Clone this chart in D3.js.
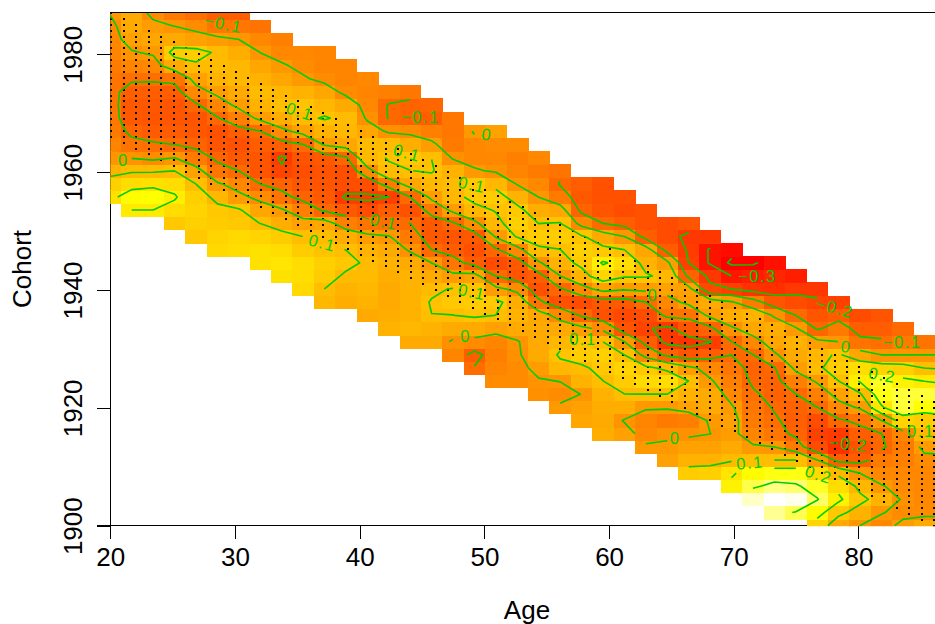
<!DOCTYPE html>
<html><head><meta charset="utf-8">
<script src="https://cdn.jsdelivr.net/npm/d3@7"></script>
<style>html,body{margin:0;background:#fff}svg{display:block}text{font-family:"Liberation Sans",Arial,sans-serif}</style>
</head><body><svg id="c" width="935" height="624"></svg>
<script>
const xTicks=[20,30,40,50,60,70,80];
const yTicks=[1900,1920,1940,1960,1980];
const levels=[-0.4,-0.3,-0.2,-0.1,0,0.1,0.2,0.3];
const columnStartRow=[25,24,24,23,22,21,21,20,19,18,17,17,16,15,14,14,13,12,11,11,10,9,8,7,7,6,5,4,4,3,2,1,1,0,0,0,0,0,0,0];
const columnValues=[
[.18,.14,.07,.0,-.04,-.06,-.07,-.075,-.08,-.075,-.06,-.04,-.03,-.02,.005,.04],
[.2,.24,.17,.09,-.005,-.08,-.115,-.14,-.14,-.125,-.09,-.04,-.005,.03,.05,.05],
[.2,.25,.18,.09,-.02,-.09,-.135,-.15,-.145,-.13,-.09,-.03,.01,.04,.02,-.02],
[.12,.17,.21,.17,.1,.0,-.1,-.135,-.15,-.15,-.13,-.08,.05,.13,.05,.0,-.06],
[.12,.14,.15,.14,.10,.03,-.06,-.12,-.145,-.15,-.11,-.03,.03,.09,.13,.03,-.02,-.09],
[.16,.15,.13,.12,.08,.01,-.07,-.115,-.15,-.16,-.105,-.04,.02,.07,.09,.09,.02,-.07,-.13],
[.17,.16,.12,.11,.02,-.03,-.10,-.14,-.16,-.125,-.05,.02,.05,.08,.08,.06,.0,-.07,-.13],
[.18,.18,.15,.10,.04,-.02,-.10,-.15,-.15,-.13,-.10,.02,.07,.09,.07,.04,.0,-.03,-.08],
[.18,.19,.17,.13,.06,.01,-.08,-.12,-.19,-.21,-.13,-.02,.06,.10,.08,.04,.01,-.03,-.05],
[.16,.17,.17,.13,.10,.03,-.05,-.12,-.15,-.165,-.155,-.1,.03,.09,.11,.07,.01,-.02,-.03],
[.08,.10,.13,.14,.11,.09,.04,-.11,-.14,-.15,-.155,-.14,.01,.07,.105,.08,.04,-.02,-.04,-.04],
[.06,.07,.09,.12,.10,.06,-.05,-.14,-.21,-.165,-.165,-.11,.04,.08,.09,.05,-.02,-.04,-.04],
[.05,.07,.08,.09,.09,.07,.02,-.08,-.17,-.21,-.165,-.03,.08,.09,.04,-.01,-.03,-.04,-.03],
[.07,.06,.05,.05,.06,.07,.05,.005,-.09,-.13,-.2,-.06,.09,.105,.09,-.01,-.105,-.105,-.05],
[.05,.08,.07,.07,.07,.07,.05,-.01,-.06,-.10,-.16,-.10,.04,.10,.12,.06,-.02,-.12,-.12,-.07],
[.05,.07,.10,.105,.09,.05,.0,-.1,-.14,-.14,-.07,.02,.08,.105,.10,.02,-.05,-.13,-.11],
[-.04,-.01,.05,.1,.12,.105,.02,-.07,-.13,-.15,-.11,.02,.08,.09,.07,-.01,-.06,-.07,-.07],
[-.095,-.13,-.02,.05,.11,.13,.11,.03,-.13,-.16,-.14,-.02,.08,.12,.12,.01,-.03,-.03,.01],
[-.02,-.04,-.05,-.04,.03,.10,.12,.02,-.10,-.17,-.11,.01,.08,.105,.13,.08,-.01,-.03,-.02,.03],
[-.02,-.02,-.01,-.005,.05,.07,.06,-.02,-.15,-.14,-.03,.11,.14,.12,.07,-.005,-.04,-.05,-.02],
[-.01,-.005,.02,.05,.05,.05,.04,-.08,-.16,-.13,-.01,.09,.13,.10,.06,.0,-.03,-.06,-.03],
[.01,-.02,.002,.08,.11,.08,.05,-.03,-.16,-.11,.0,.07,.1,.13,.105,.04,-.06,-.105,-.08],
[.04,.03,.002,.07,.09,.13,.11,.02,-.11,-.17,-.03,.07,.12,.14,.11,-.03,-.12,-.14,-.13],
[.06,.05,.06,.07,.1,.12,.14,.1,-.02,-.16,-.14,.03,.15,.21,.12,.05,-.1,-.15,-.16,-.16],
[.03,-.005,.06,.1,.13,.15,.1,.0,-.15,-.18,-.14,.01,.11,.17,.1,.0,-.13,-.17,-.16],
[.01,-.03,-.04,.01,.1,.16,.12,-.03,-.13,-.19,-.17,-.1,.02,.11,.07,.04,-.13,-.16,-.16],
[.03,.01,-.01,-.06,.01,.1,.17,.08,-.12,-.22,-.22,-.08,-.03,.03,.08,.02,-.13,-.17,-.17],
[.13,.07,.03,-.01,-.05,.03,.07,.1,.02,-.15,-.23,-.15,-.08,.02,.03,-.12,-.2,-.21,-.22,-.15],
[.14,.07,.03,.0,.01,.05,.05,.01,-.03,-.13,-.205,-.12,.02,.05,-.18,-.22,-.31,-.31,-.22],
[.22,.19,.09,.05,.02,.03,.01,-.03,-.05,-.07,-.1,-.1,-.01,.06,.01,-.2,-.3,-.42,-.36],
[.36,.29,.24,.1,.01,-.04,-.06,-.07,-.09,-.11,-.12,-.1,-.03,.04,.07,-.06,-.23,-.28,-.42],
[.33,.39,.32,.26,.1,.0,-.07,-.09,-.105,-.12,-.12,-.105,-.01,.04,.06,-.01,-.15,-.24,-.26,-.33],
[.295,.38,.31,.26,.1,-.06,-.115,-.125,-.12,-.1,-.05,.02,.05,.07,.01,-.1,-.17,-.22,-.28],
[.15,.24,.305,.27,.16,-.0,-.17,-.2,-.17,-.1,-.05,.01,.09,.08,.02,-.11,-.15,-.19,-.22],
[.05,.12,.22,.17,.08,-.13,-.24,-.21,-.11,-.03,.03,.1,.13,.11,.0,-.06,-.13,-.2],
[.0,.07,.12,.08,.0,-.13,-.16,-.13,-.08,.01,.09,.21,.17,.04,-.08,-.13,-.17],
[-.03,.005,.07,.005,-.03,-.06,-.11,-.1,-.0,.19,.26,.27,.15,.0,-.09,-.13,-.15],
[.02,-.02,-.01,-.02,-.03,-.05,-.06,-.04,.15,.28,.28,.22,.14,.0,-.06,-.1],
[.05,-.02,-.03,-.03,-.03,-.02,.02,.08,.13,.25,.28,.2,.1,.0,-.08],
[.05,-.02,-.03,-.03,-.03,-.02,.03,.1,.15,.27,.28,.18,.09,.0,-.08]
];
const dotAges=d3.range(20,87);
const dotCohortLow=[1966,1965,1964,1963,1962,1961,1960,1959,1958,1957,1956,1955,1954,1953,1952,1951,1950,1949,1948,1947,1946,1945,1944,1943,1942,1941,1940,1939,1938,1937,1936,1935,1934,1933,1932,1931,1930,1929,1928,1927,1926,1925,1924,1923,1922,1921,1920,1919,1918,1917,1916,1915,1914,1913,1912,1911,1910,1909,1908,1907,1906,1905,1904,1903,1902,1901,1900];
const dotCohortHigh=[1987,1986,1985,1984,1983,1982,1981,1980,1979,1978,1977,1976,1975,1974,1973,1972,1971,1970,1969,1968,1967,1966,1965,1964,1963,1962,1961,1960,1959,1958,1957,1956,1955,1954,1953,1952,1951,1950,1949,1948,1947,1946,1945,1944,1943,1942,1941,1940,1939,1938,1937,1936,1935,1934,1933,1932,1931,1930,1929,1928,1927,1926,1925,1924,1923,1922,1921];
const labelText=["\u22120.1","0.1","0","0.1","\u22120.1","\u22120.1","0.1","0","0.1","0.1","0","0.1","0","\u22120.3","\u22120.2","0","\u22120.1","0.2","0.1","\u22120.2","0.2","0.1","0"];
const labelAge=[29.06,35.2,21.04,37.0,41.5,44.86,43.8,50.2,49.0,49.0,48.5,57.9,63.5,71.9,78.1,79.0,83.5,81.9,85.0,79.2,76.8,71.3,65.3];
const labelCohort=[1985.2,1970.3,1962.1,1948.0,1951.8,1969.3,1963.3,1966.4,1957.9,1939.7,1932.1,1931.6,1939.2,1942.3,1937.0,1930.4,1931.1,1925.6,1916.0,1913.9,1908.7,1910.7,1914.8];
const labelAngle=[12,18,0,15,12,0,15,8,12,12,0,0,0,0,15,5,0,10,0,6,18,-5,0];

const nx=40,ny=40,ageStep=67/39,cohortStep=87/39;
const svg=d3.select("#c");
const x=d3.scaleLinear().domain([20,86.16]).range([110.3,935.3]);
const y=d3.scaleLinear().domain([1900,1987]).range([525.7,13]);
const color=d3.scaleLinear().domain([-0.42,-0.3,0.25,0.39]).range(["#ff0000","#ff1500","#ffff00","#ffffff"]).clamp(true);
const grid=new Float64Array(nx*ny).fill(NaN);
columnValues.forEach((col,i)=>col.forEach((v,k)=>{grid[i+(k+columnStartRow[i])*nx]=v;}));
const ageAt=i=>20+i*ageStep, cohortAt=k=>1900+k*cohortStep;

svg.append("defs").append("clipPath").attr("id","plot").append("rect").attr("x",110.3).attr("y",13).attr("width",825).attr("height",513.3);

const ax=svg.append("g").attr("transform",`translate(0,${y(1900)})`).call(d3.axisBottom(x).tickValues(xTicks).tickSize(13).tickPadding(7).tickFormat(d3.format("d")));
const ay=svg.append("g").attr("transform",`translate(${x(20)},0)`).call(d3.axisLeft(y).tickValues(yTicks).tickSize(13).tickFormat(d3.format("d")));
[ax,ay].forEach(g=>{g.selectAll("path,line").attr("stroke","#000").attr("stroke-width",1).attr("shape-rendering","crispEdges");g.selectAll("text").attr("fill","#000").style("font-size","26px").style("font-family",'"Liberation Sans"');});
ax.select(".domain").attr("d",`M${x(20)-13},0H935`);
ax.selectAll("text").attr("y",22).attr("dy","0.71em");
ay.selectAll(".tick text").attr("transform","rotate(-90)").attr("text-anchor","middle").attr("x",0).attr("y",-28).attr("dy",0);
ay.select(".domain").attr("d",`M0,13V${y(1900)}`);
svg.append("line").attr("x1",x(20)).attr("x2",935).attr("y1",12.5).attr("y2",12.5).attr("stroke","#000").attr("shape-rendering","crispEdges");
svg.append("text").attr("x",527).attr("y",618.5).attr("text-anchor","middle").style("font-size","26px").text("Age");
svg.append("text").attr("transform","translate(31,269) rotate(-90)").attr("text-anchor","middle").style("font-size","26px").text("Cohort");

const plot=svg.append("g").attr("clip-path","url(#plot)");
const cells=[];
for(let i=0;i<nx;i++)for(let k=0;k<ny;k++){const v=grid[i+k*nx];if(!isNaN(v))cells.push({i,k,v});}
plot.append("g").attr("shape-rendering","crispEdges").selectAll("rect").data(cells).join("rect")
 .attr("x",d=>x(ageAt(d.i)-ageStep/2)).attr("width",d=>x(ageStep)-x(0)+0.5)
 .attr("y",d=>y(cohortAt(d.k)+cohortStep/2)).attr("height",d=>y(0)-y(cohortStep)+0.5)
 .attr("fill",d=>color(d.v));
const dots=[];
dotAges.forEach((a,i)=>{for(let c=dotCohortLow[i];c<=dotCohortHigh[i];c++)dots.push([a,c]);});
plot.append("g").attr("shape-rendering","crispEdges").selectAll("rect").data(dots).join("rect")
 .attr("x",d=>Math.round(x(d[0]))).attr("y",d=>Math.round(y(d[1]))-1).attr("width",2).attr("height",2).attr("fill","#000");
const labels=labelText.map((t,i)=>({t,px:x(labelAge[i]),py:y(labelCohort[i]),ang:labelAngle[i]}));
const isGap=(px,py)=>labels.some(l=>{const r=l.ang*Math.PI/180,dx=px-l.px,dy=py-l.py;
  const u=dx*Math.cos(r)+dy*Math.sin(r),w=-dx*Math.sin(r)+dy*Math.cos(r);
  return Math.abs(u)<l.t.length*6+4&&Math.abs(w)<10;});
const isNode=v=>Math.abs(v-0.5-Math.round(v-0.5))<1e-9;
const cellOK=(a,b)=>{
  if((a[0]===b[0]&&isNode(a[0]))||(a[1]===b[1]&&isNode(a[1])))return false;
  const c=Math.floor((a[0]+b[0])/2-0.5),r=Math.floor((a[1]+b[1])/2-0.5);
  if(c<0||r<0||c>=nx-1||r>=ny-1)return false;
  return !isNaN(grid[c+r*nx])&&!isNaN(grid[c+1+r*nx])&&!isNaN(grid[c+(r+1)*nx])&&!isNaN(grid[c+1+(r+1)*nx]);};
const toPx=p=>[x(ageAt(p[0]-0.5)),y(cohortAt(p[1]-0.5))];
const gen=d3.contours().size([nx,ny]).smooth(true);
const line=d3.line();
const paths=[];
levels.forEach(t=>{
  gen.contour(grid,t+0.0007).coordinates.forEach(poly=>poly.forEach(ring=>{
    let cur=null;
    for(let j=0;j<ring.length-1;j++){
      const a=ring[j],b=ring[j+1],pa=toPx(a),pb=toPx(b);
      const ok=cellOK(a,b)&&!isGap((pa[0]+pb[0])/2,(pa[1]+pb[1])/2);
      if(ok){if(!cur){cur=[pa];paths.push(cur);}cur.push(pb);}else cur=null;
    }
  }));
});
plot.append("g").selectAll("path").data(paths).join("path").attr("d",d=>line(d)).attr("fill","none").attr("stroke","#00cd00").attr("stroke-width",1.6).attr("stroke-linejoin","round");
svg.append("g").selectAll("text").data(labels).join("text")
 .attr("transform",d=>`translate(${d.px},${d.py}) rotate(${d.ang})`).attr("text-anchor","middle").attr("dy","0.36em")
 .style("font-size","16.5px").style("letter-spacing","1.5px").attr("fill","#00cd00").text(d=>d.t);
</script></body></html>
